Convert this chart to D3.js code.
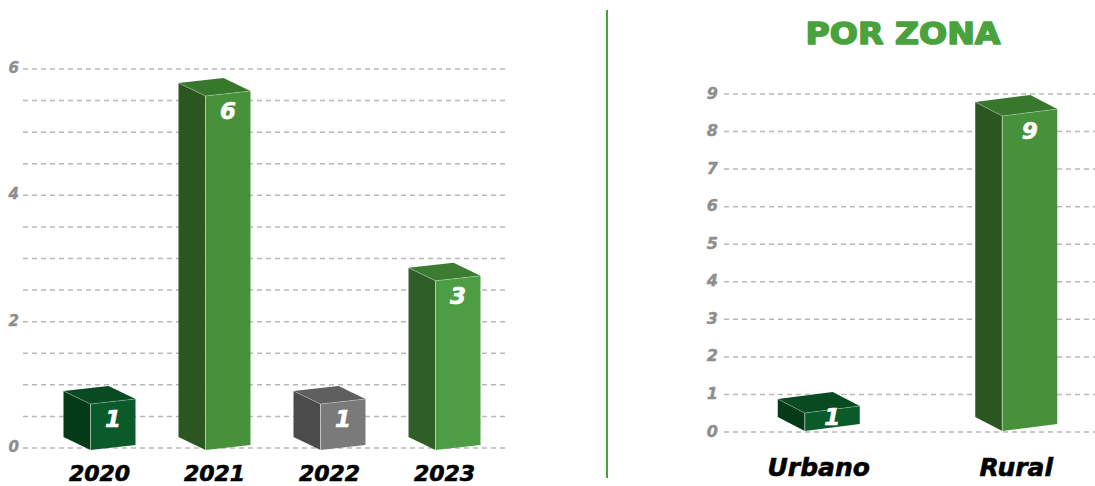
<!DOCTYPE html>
<html>
<head>
<meta charset="utf-8">
<script src="https://cdn.jsdelivr.net/npm/d3@7"></script>
<style>
  body { margin: 0; background: #fff; }
  svg { display: block; }
</style>
</head>
<body>
<div id="chart"></div>
<script>
// datos
const years = ["2020", "2021", "2022", "2023"];
const yearValues = [1, 6, 1, 3];
const yearTicks = [0, 2, 4, 6];
const yearGrid = d3.range(0, 6.01, 0.5);

const zones = ["Urbano", "Rural"];
const zoneValues = [1, 9];
const zoneTicks = [0, 1, 2, 3, 4, 5, 6, 7, 8, 9];

const zoneTitle = "POR ZONA";

// colores de las caras
const palettes = {
    dark:  { front: "#0a5a2a", side: "#053a18", top: "#084a22" },
    green: { front: "#46913a", side: "#2b561f", top: "#38782c" },
    gray:  { front: "#7a7a7a", side: "#4b4b4b", top: "#5f5f5f" },
    light: { front: "#4d9d45", side: "#2f5e26", top: "#3b7c31" }
};

const W = 1095, H = 486;
const svg = d3.select("#chart").append("svg")
    .attr("width", W)
    .attr("height", H);

const FONT = "'DejaVu Sans', sans-serif";

// dibuja una barra en 3D
function bar3d(g, cx, base, h, pal, geo, label) {
    const total = geo.depth + geo.front;
    const fx = cx - total / 2 + geo.depth;
    const fw = geo.front, s = geo.slope, d = geo.depth, dy = geo.rise;
    const pts = a => a.map(p => p.join(",")).join(" ");

    // cara lateral
    g.append("polygon")
        .attr("points", pts([[fx, base], [fx - d, base - dy], [fx - d, base - h - dy], [fx, base - h]]))
        .style("fill", pal.side);
    // cara superior
    g.append("polygon")
        .attr("points", pts([[fx, base - h], [fx - d, base - h - dy], [fx + fw - d, base - h - s - dy], [fx + fw, base - h - s]]))
        .style("fill", pal.top);
    // cara frontal
    g.append("polygon")
        .attr("points", pts([[fx, base], [fx + fw, base - s], [fx + fw, base - h - s], [fx, base - h]]))
        .style("fill", pal.front);
    // aristas claras
    g.append("polyline")
        .attr("points", pts([[fx - d, base - h - dy], [fx, base - h], [fx, base], [fx, base - h], [fx + fw, base - h - s]]))
        .style("fill", "none")
        .style("stroke", "rgba(255,255,255,0.35)")
        .style("stroke-width", 0.8);

    const ty = Math.min(base - h + 15, base - h / 2 - s / 2 - 2);
    g.append("text")
        .attr("x", fx + fw / 2)
        .attr("y", ty)
        .attr("text-anchor", "middle")
        .attr("dominant-baseline", "central")
        .style("font-family", FONT)
        .style("font-weight", "bold")
        .style("font-style", "italic")
        .style("font-size", "23px")
        .style("fill", "#fff")
        .style("stroke", "#fff")
        .style("stroke-width", 0.6)
        .text(label);
}

function gridLines(g, values, y, x0, x1) {
    g.selectAll("line.grid")
        .data(values)
        .enter()
        .append("line")
        .attr("class", "grid")
        .attr("x1", x0)
        .attr("x2", x1)
        .attr("y1", d => y(d))
        .attr("y2", d => y(d))
        .style("stroke", "#b8b8b8")
        .style("stroke-width", 1.5)
        .style("stroke-dasharray", "5,4");
}

function tickLabels(g, values, y, x, size) {
    g.selectAll("text.tick")
        .data(values)
        .enter()
        .append("text")
        .attr("class", "tick")
        .attr("x", x)
        .attr("y", d => y(d) - 1)
        .attr("text-anchor", "end")
        .attr("dominant-baseline", "central")
        .style("font-family", FONT)
        .style("font-weight", "bold")
        .style("font-style", "italic")
        .style("font-size", size + "px")
        .style("fill", "#8e8e8e")
        .style("stroke", "#8e8e8e")
        .style("stroke-width", 0.4)
        .text(d => d);
}

function catLabels(g, cats, x, yPos, size) {
    g.selectAll("text.cat")
        .data(cats)
        .enter()
        .append("text")
        .attr("class", "cat")
        .attr("x", d => x(d) + x.bandwidth() / 2)
        .attr("y", yPos)
        .attr("text-anchor", "middle")
        .style("font-family", FONT)
        .style("font-weight", "bold")
        .style("font-style", "italic")
        .style("font-size", size + "px")
        .style("fill", "#000")
        .style("stroke", "#000")
        .style("stroke-width", 0.6)
        .text(d => d);
}

// ---- gráfico por año ----
const left = svg.append("g");
const yL = d3.scaleLinear().domain([0, 6]).range([448, 69]);
const xL = d3.scaleBand().domain(years).range([42, 502]);
const hL = d3.scaleLinear().domain([1, 6]).range([46, 354]);
const colorL = d3.scaleOrdinal().domain(years)
    .range([palettes.dark, palettes.green, palettes.gray, palettes.light]);

gridLines(left, yearGrid, yL, 23, 505);
tickLabels(left, yearTicks, yL, 19, 15);

years.forEach((yr, i) => {
    bar3d(left, xL(yr) + xL.bandwidth() / 2, 450, hL(yearValues[i]), colorL(yr),
        { front: 45, depth: 27, slope: 5, rise: 13 }, yearValues[i]);
});
catLabels(left, years, xL, 481, 22);

// separador
svg.append("line")
    .attr("x1", 607).attr("x2", 607)
    .attr("y1", 10).attr("y2", 478)
    .style("stroke", "#4aa23c")
    .style("stroke-width", 2);

// ---- gráfico por zona ----
const right = svg.append("g");
const yR = d3.scaleLinear().domain([0, 9]).range([432, 94]);
const xR = d3.scaleBand().domain(zones).range([720, 1115]);
const hR = d3.scaleLinear().domain([1, 9]).range([18, 315]);
const colorR = d3.scaleOrdinal().domain(zones).range([palettes.dark, palettes.green]);

right.append("text")
    .attr("x", 903)
    .attr("y", 44)
    .attr("text-anchor", "middle")
    .attr("textLength", 195)
    .attr("lengthAdjust", "spacingAndGlyphs")
    .style("font-family", FONT)
    .style("font-weight", "bold")
    .style("font-size", "31px")
    .style("fill", "#4aa23c")
    .style("stroke", "#4aa23c")
    .style("stroke-width", 1.6)
    .style("stroke-linejoin", "round")
    .text(zoneTitle);

gridLines(right, zoneTicks, yR, 724, 1095);
tickLabels(right, zoneTicks, yR, 718, 16);

zones.forEach((z, i) => {
    bar3d(right, xR(z) + xR.bandwidth() / 2, 431, hR(zoneValues[i]), colorR(z),
        { front: 55, depth: 27, slope: 7, rise: 14 }, zoneValues[i]);
});
catLabels(right, zones, xR, 476, 25);
</script>
</body>
</html>
